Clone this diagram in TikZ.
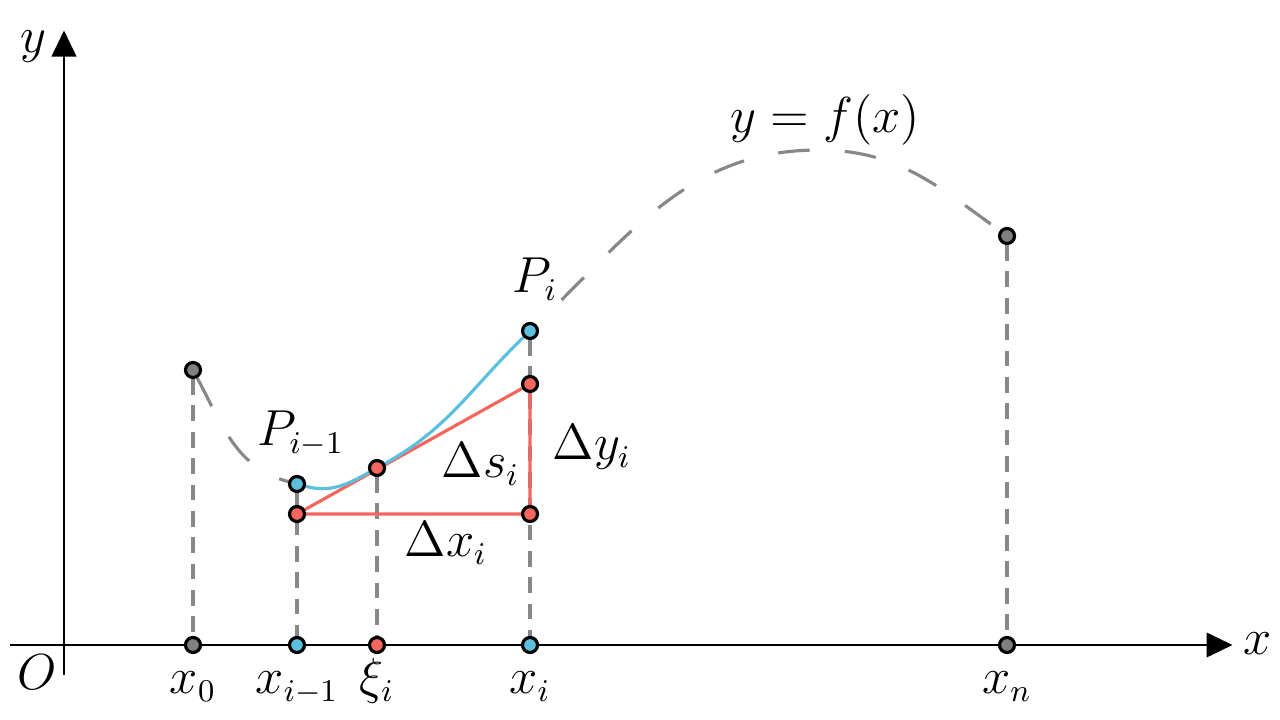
\documentclass[tikz,border=0pt]{standalone}
\usetikzlibrary{arrows.meta,backgrounds}
\definecolor{curvegray}{HTML}{888888}
\definecolor{dotgray}{HTML}{808080}
\definecolor{ptblue}{HTML}{5BC0DE}
\definecolor{ptred}{HTML}{F5675E}
\begin{document}
\begin{tikzpicture}[font=\fontsize{13.5}{16}\selectfont,
        pdot/.style={circle, draw=black, line width=0.9pt, inner sep=0pt, minimum size=0.15cm, fill=#1},
        axis/.style={line width=0.6pt, -{Triangle[width=7pt, length=7.4pt, sep=1pt]}},
        guide/.style={curvegray, line width=0.9pt, dash pattern=on 4.5pt off 3pt},
        fcurve/.style={curvegray, line width=0.9pt, dash pattern=on 9pt off 10pt},
        lbl/.style={inner sep=0pt, anchor=base}]
        \useasboundingbox (-0.64, -0.75) rectangle (12.16, 6.45);
        \coordinate (xs) at (-0.54, 0);
        \coordinate (xe) at (11.72, 0);
        \coordinate (ys) at (0, -0.30);
        \coordinate (ye) at (0, 6.18);
        \coordinate (top) at (7.55, 4.95);
        % points on the curve
        \node[pdot=dotgray] (P0) at (1.29, 2.75) {};
        \node[pdot=ptblue] (Pa) at (2.33, 1.61) {};
        \node[pdot=ptred] (Qa) at (2.33, 1.31) {};
        \node[pdot=ptred] (Xi) at (3.13, 1.77) {};
        \node[pdot=ptblue] (Pb) at (4.66, 3.14) {};
        \node[pdot=ptred] (Qb) at (4.66, 2.61) {};
        \node[pdot=ptred] (Qc) at (4.66, 1.31) {};
        \node[pdot=dotgray] (Pn) at (9.43, 4.09) {};
        % points on the x axis
        \node[pdot=dotgray] (t0) at (1.29, 0) {};
        \node[pdot=ptblue] (ta) at (2.33, 0) {};
        \node[pdot=ptred] (txi) at (3.13, 0) {};
        \node[pdot=ptblue] (tb) at (4.66, 0) {};
        \node[pdot=dotgray] (tn) at (9.43, 0) {};
        % labels
        \node[lbl] (lO) at (-0.27, -0.45) {$O$};
        \node[lbl, anchor=base west] (lx) at (11.79, -0.10) {$x$};
        \node[lbl, anchor=base west] (ly) at (-0.44, 5.92) {$y$};
        \node[lbl] (lx0) at (1.29, -0.49) {$x_0$};
        \node[lbl] (lxa) at (2.33, -0.49) {$x_{i-1}$};
        \node[lbl] (lxi) at (3.13, -0.49) {$\xi_i$};
        \node[lbl] (lxb) at (4.66, -0.49) {$x_i$};
        \node[lbl] (lxn) at (9.43, -0.49) {$x_n$};
        \node[lbl, anchor=base west] (lPa) at (1.93, 1.99) {$P_{i-1}$};
        \node[lbl, anchor=base west] (lPb) at (4.48, 3.52) {$P_i$};
        \node[lbl, anchor=base west] (lf) at (6.66, 5.12) {$y=f(x)$};
        \node[lbl, anchor=base west] (lds) at (3.77, 1.67) {$\Delta s_i$};
        \node[lbl, anchor=base west] (ldy) at (4.88, 1.85) {$\Delta y_i$};
        \node[lbl, anchor=base west] (ldx) at (3.40, 0.88) {$\Delta x_i$};
        \begin{pgfonlayer}{background}
            \draw[axis] (xs) -- (xe);
            \draw[axis] (ys) -- (ye);
            \draw[guide] (P0) -- (t0);
            \draw[guide] (Pa) -- (ta);
            \draw[guide] (Xi) -- (txi);
            \draw[guide] (Pb) -- (tb);
            \draw[guide] (Pn) -- (tn);
            \draw[fcurve] (P0) to[out=-62, in=165] (Pa);
            \draw[fcurve, dash phase=9pt] (Pb) to[out=44, in=180] (top) to[out=0, in=144] (Pn);
            \draw[ptred, line width=0.9pt] (Qa) -- (Qb) -- (Qc) -- (Qa);
            \draw[ptblue, line width=0.9pt] (Pa) to[out=-15, in=209.2] (Xi) to[out=29.2, in=-136] (Pb);
        \end{pgfonlayer}
    \end{tikzpicture}
\end{document}
